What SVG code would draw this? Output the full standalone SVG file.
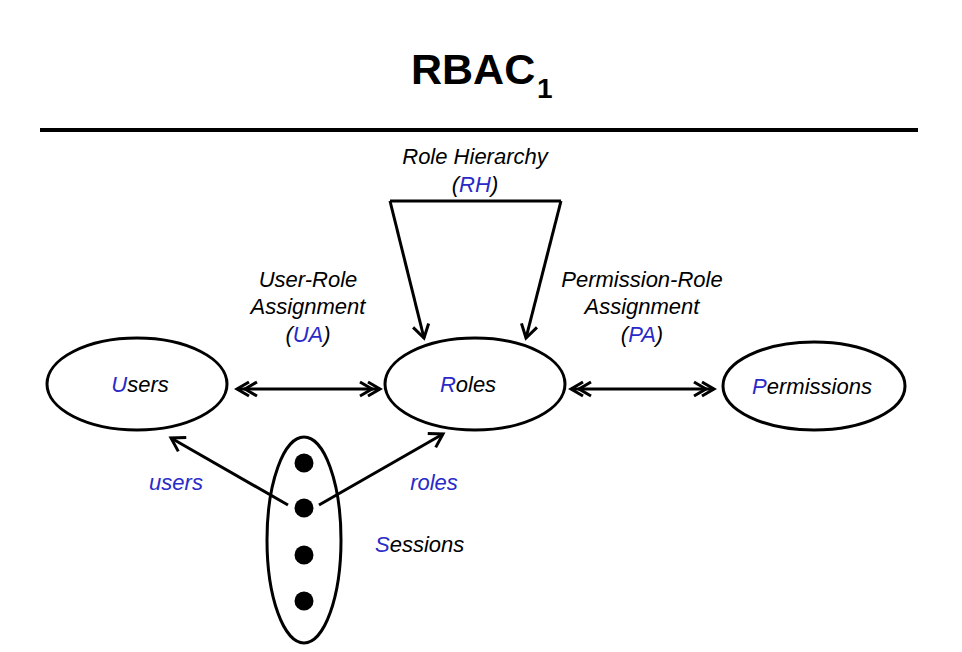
<svg xmlns="http://www.w3.org/2000/svg" width="962" height="652" viewBox="0 0 962 652">
<defs>
<marker id="v" markerUnits="userSpaceOnUse" markerWidth="30" markerHeight="30" viewBox="-20 -15 30 30" refX="0" refY="0" orient="auto">
<path d="M-13,-8 L0,0 L-13,8" fill="none" stroke="#000" stroke-width="3"/>
</marker>
<marker id="vv" markerUnits="userSpaceOnUse" markerWidth="40" markerHeight="30" viewBox="-30 -15 40 30" refX="0" refY="0" orient="auto-start-reverse">
<path d="M-12,-7 L0,0 L-12,7 M-20,-7 L-8,0 L-20,7" fill="none" stroke="#000" stroke-width="3"/>
</marker>
</defs>
<style>
.t{font-family:"Liberation Sans",Arial,sans-serif;font-style:italic;font-size:22px;fill:#000}
.b{fill:#2a2ac8}
.node{fill:none;stroke:#000;stroke-width:3}
.c{fill:none;stroke:#000;stroke-width:3}
</style>
<rect width="962" height="652" fill="#fff"/>
<g id="title">
<text x="411" y="84" font-family="Liberation Sans,Arial,sans-serif" font-weight="bold" font-size="43">RBAC</text>
<text x="537" y="98" font-family="Liberation Sans,Arial,sans-serif" font-weight="bold" font-size="28">1</text>
<line x1="40" y1="130" x2="918" y2="130" stroke="#000" stroke-width="4"/>
</g>
<g id="connectors">
<line class="c" x1="237" y1="389" x2="380" y2="389" marker-start="url(#vv)" marker-end="url(#vv)"/>
<line class="c" x1="571" y1="389" x2="714" y2="389" marker-start="url(#vv)" marker-end="url(#vv)"/>
<path class="c" d="M390,201 L561,201"/>
<path class="c" d="M390,201 L424,338" marker-end="url(#v)"/>
<path class="c" d="M561,201 L526,338" marker-end="url(#v)"/>
<line class="c" x1="288" y1="505" x2="171" y2="438" marker-end="url(#v)"/>
<line class="c" x1="319" y1="505" x2="443" y2="434" marker-end="url(#v)"/>
</g>
<g id="users">
<ellipse class="node" cx="137" cy="384" rx="90" ry="46"/>
<text class="t" x="140" y="392" text-anchor="middle"><tspan class="b">U</tspan>sers</text>
</g>
<g id="roles">
<ellipse class="node" cx="475" cy="384" rx="90" ry="46"/>
<text class="t" x="468" y="392" text-anchor="middle"><tspan class="b">R</tspan>oles</text>
</g>
<g id="permissions">
<ellipse class="node" cx="814" cy="386" rx="91" ry="44"/>
<text class="t" x="812" y="394" text-anchor="middle"><tspan class="b">P</tspan>ermissions</text>
</g>
<g id="sessions">
<ellipse class="node" cx="304" cy="540" rx="37" ry="103"/>
<circle cx="304" cy="463" r="9.5"/>
<circle cx="304" cy="508" r="9.5"/>
<circle cx="304" cy="555" r="9.5"/>
<circle cx="304" cy="601" r="9.5"/>
<text class="t" x="375" y="552"><tspan class="b">S</tspan>essions</text>
</g>
<g id="labels">
<text class="t" x="475" y="164" text-anchor="middle">Role Hierarchy</text>
<text class="t" x="475" y="192" text-anchor="middle">(<tspan class="b">RH</tspan>)</text>
<text class="t" x="308" y="287" text-anchor="middle">User-Role</text>
<text class="t" x="308" y="314" text-anchor="middle">Assignment</text>
<text class="t" x="308" y="342" text-anchor="middle">(<tspan class="b">UA</tspan>)</text>
<text class="t" x="642" y="287" text-anchor="middle">Permission-Role</text>
<text class="t" x="642" y="314" text-anchor="middle">Assignment</text>
<text class="t" x="642" y="342" text-anchor="middle">(<tspan class="b">PA</tspan>)</text>
<text class="t b" x="176" y="490" text-anchor="middle">users</text>
<text class="t b" x="434" y="490" text-anchor="middle">roles</text>
</g>
</svg>
